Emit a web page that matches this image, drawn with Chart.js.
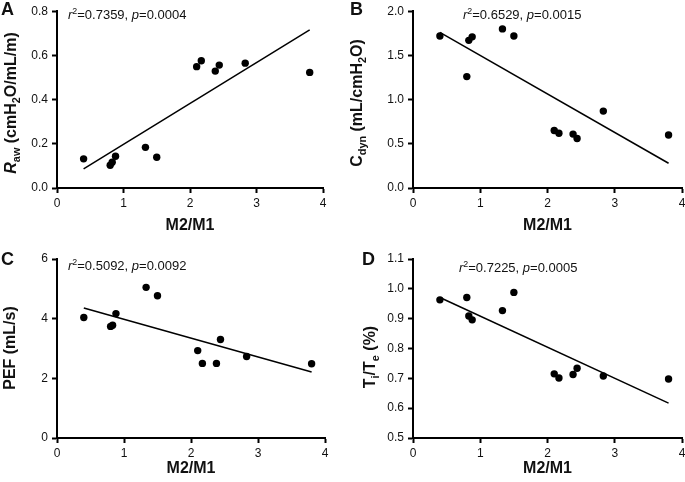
<!DOCTYPE html>
<html>
<head>
<meta charset="utf-8">
<script src="https://cdn.jsdelivr.net/npm/chart.js@4"></script>
<style>
  html, body { margin: 0; padding: 0; background: #fff; overflow: hidden; width: 685px; height: 482px; }
  canvas { position: absolute; }
</style>
</head>
<body>
<canvas id="panelA" width="342" height="240" style="left:0;top:0;width:342px;height:240px"></canvas>
<canvas id="panelB" width="360" height="240" style="left:340px;top:0;width:360px;height:240px"></canvas>
<canvas id="panelC" width="342" height="242" style="left:0;top:240px;width:342px;height:242px"></canvas>
<canvas id="panelD" width="360" height="242" style="left:340px;top:240px;width:360px;height:242px"></canvas>
<script>
// M2/M1 ratio for each animal (shared x values)
const ratio = [0.40, 0.80, 0.83, 0.88, 1.33, 1.50, 2.10, 2.17, 2.38, 2.44, 2.83, 3.80];

const raw   = [0.132, 0.103, 0.117, 0.144, 0.184, 0.139, 0.549, 0.576, 0.529, 0.556, 0.565, 0.523];
const cdyn  = [1.72, 1.26, 1.67, 1.71, 1.80, 1.72, 0.65, 0.62, 0.61, 0.56, 0.87, 0.60];
const pef   = [4.04, 3.74, 3.78, 4.17, 5.05, 4.77, 2.93, 2.50, 2.50, 3.30, 2.73, 2.49];
const titte = [0.963, 0.971, 0.909, 0.896, 0.927, 0.988, 0.715, 0.701, 0.713, 0.734, 0.708, 0.698];

// regression line end points
const fitX    = [0.4, 3.8];
const rawFit  = [0.087, 0.715];
const cdynFit = [1.76, 0.28];
const pefFit  = [4.36, 2.21];
const titteFit = [0.971, 0.617];

const xTicks = [0, 1, 2, 3, 4];

const FONT = '"Liberation Sans", Arial, sans-serif';
Chart.defaults.font.family = FONT;
Chart.defaults.color = '#111';

function partFont(p, size, bold) {
  const s = (p.sub || p.sup) ? size * 0.68 : size;
  return (p.italic ? 'italic ' : '') + (bold ? 'bold ' : '') + s + 'px ' + FONT;
}

// draws text with sub/superscripts; (x, y) is the center, or left edge when align = 'left'
function drawRich(ctx, parts, x, y, size, bold, rotate, align) {
  ctx.save();
  let total = 0;
  parts.forEach(p => { ctx.font = partFont(p, size, bold); total += ctx.measureText(p.t).width; });
  ctx.translate(x, y);
  if (rotate) ctx.rotate(-Math.PI / 2);
  ctx.fillStyle = '#111';
  ctx.textBaseline = 'alphabetic';
  ctx.textAlign = 'left';
  let cx = align === 'left' ? 0 : -total / 2;
  const base = size * 0.36;
  parts.forEach(p => {
    ctx.font = partFont(p, size, bold);
    let dy = base;
    if (p.sub) dy += size * 0.28;
    if (p.sup) dy -= size * 0.38;
    ctx.fillText(p.t, cx, dy);
    cx += ctx.measureText(p.t).width;
  });
  ctx.restore();
}

const panelText = {
  id: 'panelText',
  afterDraw(chart, args, o) {
    const ctx = chart.ctx;
    const a = chart.chartArea;
    drawRich(ctx, [{ t: o.letter }], o.letterX, o.letterY, 18, true, false, 'left');
    drawRich(ctx, o.annot, o.annotX, o.annotY, 13, false, false, 'left');
    drawRich(ctx, o.yTitle, o.yTitleX, o.yTitleY, 16, true, true);
    drawRich(ctx, [{ t: 'M2/M1' }], (a.left + a.right) / 2, o.xTitleY, 16, true, false);
  }
};

function annot(r2, p) {
  return [{ t: 'r', italic: true }, { t: '2', sup: true }, { t: '=' + r2 + ', ' }, { t: 'p', italic: true }, { t: '=' + p }];
}

function makePanel(id, ys, fitYs, yMin, yMax, yStep, decimals, yWidth, xHeight, pad, text) {
  new Chart(document.getElementById(id), {
    type: 'scatter',
    data: {
      datasets: [
        {
          data: ratio.map((x, i) => ({ x: x, y: ys[i] })),
          backgroundColor: '#000',
          borderColor: '#000',
          pointRadius: 3.7,
          pointBorderWidth: 0
        },
        {
          data: fitX.map((x, i) => ({ x: x, y: fitYs[i] })),
          showLine: true,
          borderColor: '#000',
          borderWidth: 1.5,
          pointRadius: 0
        }
      ]
    },
    options: {
      responsive: false,
      animation: false,
      layout: { padding: pad },
      plugins: {
        legend: { display: false },
        tooltip: { enabled: false },
        panelText: text
      },
      scales: {
        x: {
          type: 'linear',
          min: 0, max: 4,
          afterBuildTicks: s => { s.ticks = xTicks.map(v => ({ value: v })); },
          afterFit: s => { s.height = xHeight; },
          border: { display: true, color: '#000', width: 2 },
          grid: { drawOnChartArea: false, drawTicks: true, tickLength: 5, tickColor: '#000', tickWidth: 2 },
          ticks: { font: { size: 12 }, padding: 3, maxRotation: 0, color: '#111' }
        },
        y: {
          min: yMin, max: yMax,
          afterFit: s => { s.width = yWidth; },
          border: { display: true, color: '#000', width: 2 },
          grid: { drawOnChartArea: false, drawTicks: true, tickLength: 5, tickColor: '#000', tickWidth: 2 },
          ticks: {
            stepSize: yStep,
            font: { size: 12 },
            padding: 4,
            color: '#111',
            callback: v => v.toFixed(decimals)
          }
        }
      }
    },
    plugins: [panelText]
  });
}

makePanel('panelA', raw, rawFit, 0, 0.8, 0.2, 1, 57, 52, { top: 10, right: 19, left: 0, bottom: 0 }, {
  letter: 'A', letterX: 1, letterY: 9,
  annot: annot('0.7359', '0.0004'), annotX: 68, annotY: 14,
  yTitle: [{ t: 'R', italic: true }, { t: 'aw', sub: true }, { t: ' (cmH' }, { t: '2', sub: true }, { t: 'O/mL/m)' }],
  yTitleX: 10, yTitleY: 103, xTitleY: 224
});

makePanel('panelB', cdyn, cdynFit, 0, 2.0, 0.5, 1, 73, 52, { top: 10, right: 18, left: 0, bottom: 0 }, {
  letter: 'B', letterX: 10, letterY: 9,
  annot: annot('0.6529', '0.0015'), annotX: 123, annotY: 14,
  yTitle: [{ t: 'C' }, { t: 'dyn', sub: true }, { t: ' (mL/cmH' }, { t: '2', sub: true }, { t: 'O)' }],
  yTitleX: 16, yTitleY: 103, xTitleY: 224
});

makePanel('panelC', pef, pefFit, 0, 6, 2, 0, 57, 44, { top: 19, right: 17, left: 0, bottom: 0 }, {
  letter: 'C', letterX: 1, letterY: 19,
  annot: annot('0.5092', '0.0092'), annotX: 68, annotY: 25,
  yTitle: [{ t: 'PEF (mL/s)' }],
  yTitleX: 9, yTitleY: 108, xTitleY: 227
});

makePanel('panelD', titte, titteFit, 0.5, 1.1, 0.1, 1, 73, 44, { top: 19, right: 18, left: 0, bottom: 0 }, {
  letter: 'D', letterX: 22, letterY: 19,
  annot: annot('0.7225', '0.0005'), annotX: 119, annotY: 27,
  yTitle: [{ t: 'T' }, { t: 'i', sub: true }, { t: '/T' }, { t: 'e', sub: true }, { t: ' (%)' }],
  yTitleX: 29, yTitleY: 117, xTitleY: 227
});
</script>
</body>
</html>
